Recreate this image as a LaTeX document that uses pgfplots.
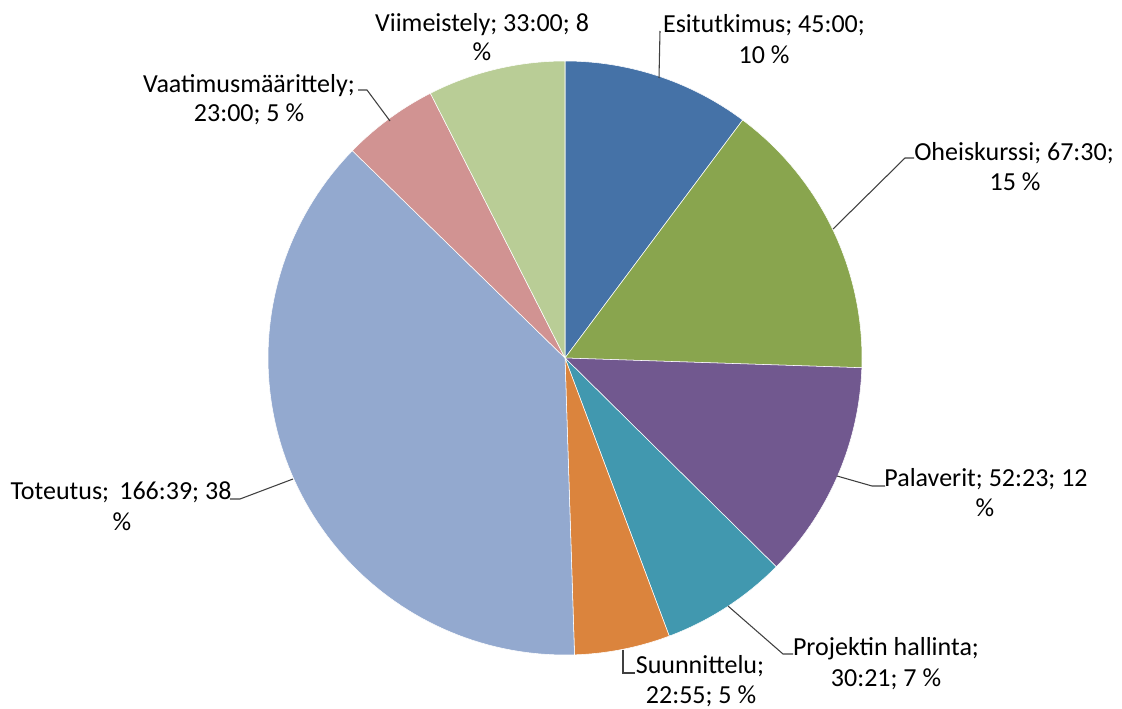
\documentclass[border=0pt]{standalone}
\usepackage{fontspec}
\setmainfont{Carlito}
\usepackage{pgfplots}
\usepackage{pgfplotstable}
\pgfplotsset{compat=1.18}
\definecolor{cA}{HTML}{4572A7}
\definecolor{cB}{HTML}{89A54E}
\definecolor{cC}{HTML}{71588F}
\definecolor{cD}{HTML}{4198AF}
\definecolor{cE}{HTML}{DB843D}
\definecolor{cF}{HTML}{93A9CF}
\definecolor{cG}{HTML}{D19392}
\definecolor{cH}{HTML}{B9CD96}
\definecolor{lead}{HTML}{404040}
% hours spent per task (h:mm converted to hours)
\def\vA{45.00}    % Esitutkimus 45:00
\def\vB{67.50}    % Oheiskurssi 67:30
\def\vC{52.3833}  % Palaverit 52:23
\def\vD{30.35}    % Projektin hallinta 30:21
\def\vE{22.9167}  % Suunnittelu 22:55
\def\vF{166.65}   % Toteutus 166:39
\def\vG{23.00}    % Vaatimusmaarittely 23:00
\def\vH{33.00}    % Viimeistely 33:00
\begin{document}
\begin{tikzpicture}[
  lbl/.style={anchor=base, font=\fontsize{19.5}{22.5}\selectfont, text=black, inner sep=0pt},
  ldr/.style={draw=lead, line width=0.8pt},
]
\pgfmathsetmacro\tot{\vA+\vB+\vC+\vD+\vE+\vF+\vG+\vH}
\pgfmathsetmacro\aA{90}
\pgfmathsetmacro\aB{\aA-\vA/\tot*360}
\pgfmathsetmacro\aC{\aB-\vB/\tot*360}
\pgfmathsetmacro\aD{\aC-\vC/\tot*360}
\pgfmathsetmacro\aE{\aD-\vD/\tot*360}
\pgfmathsetmacro\aF{\aE-\vE/\tot*360}
\pgfmathsetmacro\aG{\aF-\vF/\tot*360}
\pgfmathsetmacro\aH{\aG-\vG/\tot*360}
\pgfmathsetmacro\aI{\aH-\vH/\tot*360}
\begin{axis}[
  width=841.5pt, height=531.75pt, scale only axis,
  xmin=0, xmax=1122, ymin=0, ymax=709, y dir=reverse,
  hide axis, clip=false,
  slice/.style={draw=white, line width=0.4pt, samples=90, variable=\t},
]
\path (axis cs:0,0) rectangle (axis cs:1122,709);
\addplot[slice, fill=cA, domain=\aB:\aA] ({565+297*cos(\t)},{358-297*sin(\t)}) -- (axis cs:565,358) -- cycle;
\addplot[slice, fill=cB, domain=\aC:\aB] ({565+297*cos(\t)},{358-297*sin(\t)}) -- (axis cs:565,358) -- cycle;
\addplot[slice, fill=cC, domain=\aD:\aC] ({565+297*cos(\t)},{358-297*sin(\t)}) -- (axis cs:565,358) -- cycle;
\addplot[slice, fill=cD, domain=\aE:\aD] ({565+297*cos(\t)},{358-297*sin(\t)}) -- (axis cs:565,358) -- cycle;
\addplot[slice, fill=cE, domain=\aF:\aE] ({565+297*cos(\t)},{358-297*sin(\t)}) -- (axis cs:565,358) -- cycle;
\addplot[slice, fill=cF, domain=\aG:\aF] ({565+297*cos(\t)},{358-297*sin(\t)}) -- (axis cs:565,358) -- cycle;
\addplot[slice, fill=cG, domain=\aH:\aG] ({565+297*cos(\t)},{358-297*sin(\t)}) -- (axis cs:565,358) -- cycle;
\addplot[slice, fill=cH, domain=\aI:\aH] ({565+297*cos(\t)},{358-297*sin(\t)}) -- (axis cs:565,358) -- cycle;
% leader lines
\draw[ldr] (axis cs:660,31) -- (axis cs:659,78);
\draw[ldr] (axis cs:914,158) -- (axis cs:905,158) -- (axis cs:833,229);
\draw[ldr] (axis cs:885,486) -- (axis cs:872,486) -- (axis cs:837,476);
\draw[ldr] (axis cs:793,654) -- (axis cs:783,654) -- (axis cs:728,606);
\draw[ldr] (axis cs:635,673) -- (axis cs:623,673) -- (axis cs:623,650);
\draw[ldr] (axis cs:230,499) -- (axis cs:240,499) -- (axis cs:293,479);
\draw[ldr] (axis cs:358,90) -- (axis cs:367,90) -- (axis cs:390,121);
% labels
\node[lbl] at (axis cs:764,33) {Esitutkimus; 45:00;};
\node[lbl] at (axis cs:764,64) {10 \%};
\node[lbl] at (axis cs:1014,161) {Oheiskurssi; 67:30;};
\node[lbl] at (axis cs:1015,191) {15 \%};
\node[lbl] at (axis cs:986,487) {Palaverit; 52:23; 12};
\node[lbl] at (axis cs:985,517) {\%};
\node[lbl] at (axis cs:886,655) {Projektin hallinta;};
\node[lbl] at (axis cs:886,686) {30:21; 7 \%};
\node[lbl] at (axis cs:700,673) {Suunnittelu;};
\node[lbl] at (axis cs:701,703) {22:55; 5 \%};
\node[lbl] at (axis cs:121,499) {Toteutus;\, 166:39; 38};
\node[lbl] at (axis cs:122,530) {\%};
\node[lbl] at (axis cs:249,93) {Vaatimusmäärittely;};
\node[lbl] at (axis cs:249,122) {23:00; 5 \%};
\node[lbl] at (axis cs:482,32) {Viimeistely; 33:00; 8};
\node[lbl] at (axis cs:482,61) {\%};
\end{axis}
\end{tikzpicture}
\end{document}
